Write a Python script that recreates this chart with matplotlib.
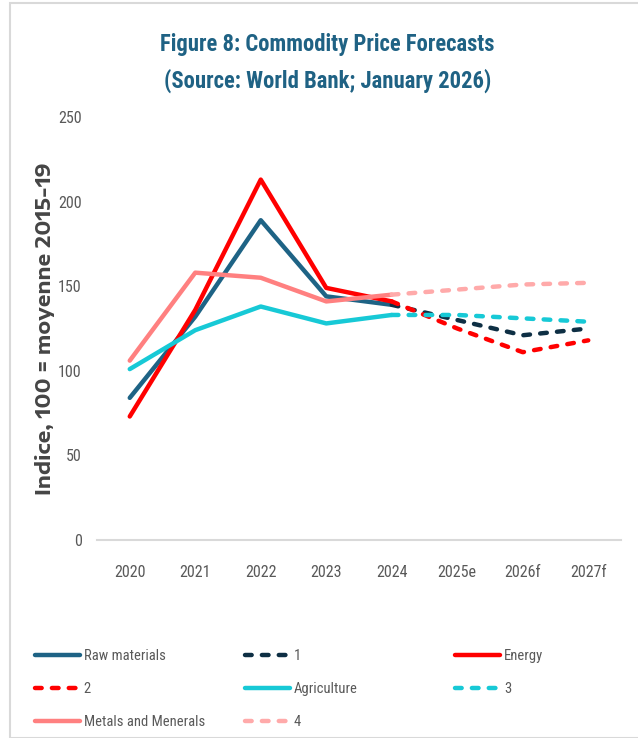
import matplotlib
matplotlib.use("Agg")
import matplotlib.pyplot as plt
from matplotlib.patches import Rectangle

# Commodity price indices (100 = 2015-19 average), World Bank Jan 2026
years = ["2020", "2021", "2022", "2023", "2024", "2025e", "2026f", "2027f"]
raw_materials = [84, 132, 189, 144, 139, 130, 121, 125]
energy = [73, 136, 213, 149, 141, 125, 111, 118]
agriculture = [101, 124, 138, 128, 133, 133, 131, 129]
metals = [106, 158, 155, 141, 145, 148, 151, 152]
y_ticks = [0, 50, 100, 150, 200, 250]

# (label, values, solid colour, forecast label, forecast colour)
series = [
    ("Raw materials", raw_materials, "#1E6385", "1", "#0E2F44"),
    ("Energy", energy, "#FF0000", "2", "#FF0000"),
    ("Agriculture", agriculture, "#17C9D6", "3", "#17C9D6"),
    ("Metals and Menerals", metals, "#FF8080", "4", "#FFAAAA"),
]

narrow = ["Roboto Condensed", "DejaVu Sans"]
wide = ["Encode Sans Expanded", "DejaVu Sans"]
grey = "#595959"
lw = 3.2
dash = (0, (1.5, 2.3))

fig = plt.figure(figsize=(6.38, 7.38), dpi=100)
fig.patches.append(Rectangle((10 / 638, 0), 1, 1 - 3 / 738, transform=fig.transFigure,
                             fill=False, edgecolor="#D9D9D9", linewidth=1.5))

ax = fig.add_axes([97 / 638, 1 - 540 / 738, 524 / 638, 423 / 738])
x = list(range(len(years)))
handles = {}
for name, vals, col, fname, fcol in series:
    handles[name] = ax.plot(x[:5], vals[:5], color=col, lw=lw,
                            solid_capstyle="round", label=name)[0]
    handles[fname] = ax.plot(x[4:], vals[4:], color=fcol, lw=lw, linestyle=dash,
                             dash_capstyle="round", label=fname)[0]

ax.set_xlim(-0.5, len(years) - 0.5)
ax.set_ylim(0, 250)
ax.set_yticks(y_ticks)
ax.set_xticks(x)
ax.set_xticklabels(years)
for s in ["top", "right", "left"]:
    ax.spines[s].set_visible(False)
ax.spines["bottom"].set_color("#D9D9D9")
ax.spines["bottom"].set_linewidth(1.5)
ax.tick_params(axis="both", length=0, labelsize=11.5, labelcolor=grey)
for lab in ax.get_xticklabels() + ax.get_yticklabels():
    lab.set_family(narrow)
ax.tick_params(axis="x", pad=18)
ax.tick_params(axis="y", pad=11)
ax.set_ylabel("Indice, 100 = moyenne 2015-19", fontsize=14.5, fontweight="bold",
              color="#454545", family=wide)
ax.yaxis.set_label_coords(-52 / 524, 0.5)
ax.yaxis.label.set_va("center")

fig.text(0.513, 1 - 45 / 738, "Figure 8: Commodity Price Forecasts", ha="center", va="center",
         fontsize=16.3, fontweight="bold", color="#1F6284", family=narrow)
fig.text(0.513, 1 - 81 / 738, "(Source: World Bank; January 2026)", ha="center", va="center",
         fontsize=16.3, fontweight="bold", color="#1F6284", family=narrow)

# legend laid out row by row, one legend per column
columns = [["Raw materials", "2", "Metals and Menerals"],
           ["1", "Agriculture", "4"],
           ["Energy", "3"]]
col_x = [35 / 638, 245 / 638, 455 / 638]
for names, cx in zip(columns, col_x):
    leg = fig.legend([handles[n] for n in names], names, loc="upper left",
                     bbox_to_anchor=(cx, 1 - 649 / 738), frameon=False,
                     borderpad=0, borderaxespad=0,
                     handlelength=3.1, handletextpad=0.25, labelspacing=1.3,
                     prop={"family": narrow, "size": 10.5})
    for t in leg.get_texts():
        t.set_color(grey)

fig.savefig("out.png", dpi=100)
